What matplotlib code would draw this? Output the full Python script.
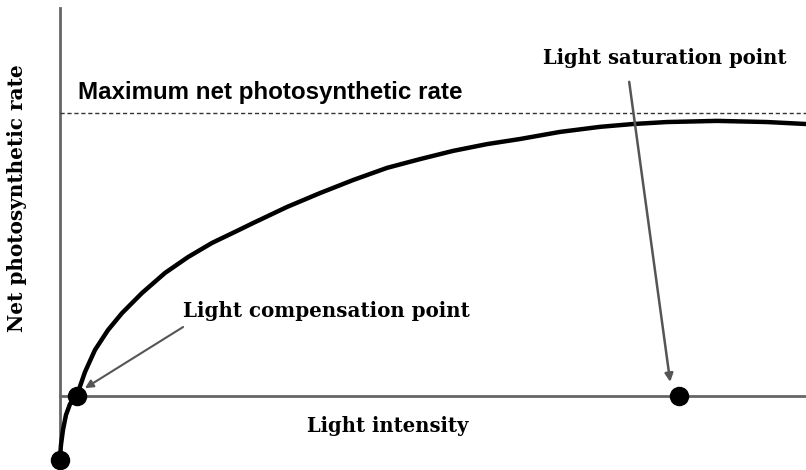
import matplotlib.pyplot as plt

# light response curve
# (x: light intensity, y: net photosynthetic rate, max rate = 10)
light = [0.0, 0.013, 0.040, 0.080, 0.134, 0.228, 0.335, 0.469, 0.643, 0.831,
         1.099, 1.408, 1.716, 2.038, 2.346, 2.587, 3.043, 3.485, 3.928, 4.383,
         4.826, 5.268, 5.724, 6.166, 6.70, 7.239, 7.681, 8.137, 8.807, 9.477, 10.0]
rate = [-2.19, -1.73, -1.20, -0.67, -0.28, 0.035, 0.85, 1.63, 2.33, 2.93,
        3.64, 4.35, 4.91, 5.41, 5.80, 6.11, 6.68, 7.17, 7.63, 8.06,
        8.37, 8.66, 8.90, 9.08, 9.33, 9.51, 9.61, 9.68, 9.72, 9.68, 9.61]

max_rate = 10.0
x_end = 10.0
y_top = 13.7
comp_point = (0.228, 0.0)
sat_point = (8.30, 0.0)
dark_point = (0.0, -2.26)

serif = 'DejaVu Serif'

fig = plt.figure(figsize=(8.06, 4.70), dpi=100)
ax = fig.add_axes([0, 0, 1, 1])
ax.set_xlim(-0.804, 10.0)
ax.set_ylim(-2.61, 13.99)
ax.axis('off')

# axes drawn by hand
ax.plot([0, 0], [-2.2, y_top], color='#666666', lw=2)
ax.plot([0, x_end], [0, 0], color='#666666', lw=2)
ax.plot([0, x_end], [max_rate, max_rate], color='#333333', lw=1, ls=(0, (3, 2)))

ax.plot(light, rate, color='black', lw=3.2, solid_capstyle='round',
        solid_joinstyle='round')

for p in [comp_point, sat_point, dark_point]:
    ax.plot(p[0], p[1], 'o', color='black', ms=13)

ax.text(0.24, 10.72, 'Maximum net photosynthetic rate', fontsize=17.4,
        fontweight='bold', family='Liberation Sans', va='center', ha='left')

# arrows
ax.annotate('', xy=(0.335, 0.28), xytext=(1.65, 2.44),
            arrowprops=dict(arrowstyle='-|>', color='#555555', lw=1.5,
                            mutation_scale=12, shrinkA=0, shrinkB=0))
ax.annotate('', xy=(8.18, 0.50), xytext=(7.63, 11.1),
            arrowprops=dict(arrowstyle='-|>', color='#555555', lw=1.8,
                            mutation_scale=12, shrinkA=0, shrinkB=0))

ax.text(1.65, 3.0, 'Light compensation point', fontsize=14.3, fontweight='bold',
        family=serif, va='center', ha='left')
ax.text(8.11, 11.94, 'Light saturation point', fontsize=14.1, fontweight='bold',
        family=serif, va='center', ha='center')
ax.text(4.39, -1.06, 'Light intensity', fontsize=14.1, fontweight='bold',
        family=serif, va='center', ha='center')
fig.text(0.021, 0.579, 'Net photosynthetic rate', fontsize=14.4, fontweight='bold',
         family=serif, va='center', ha='center', rotation=90)

fig.savefig('out.png', dpi=100)
